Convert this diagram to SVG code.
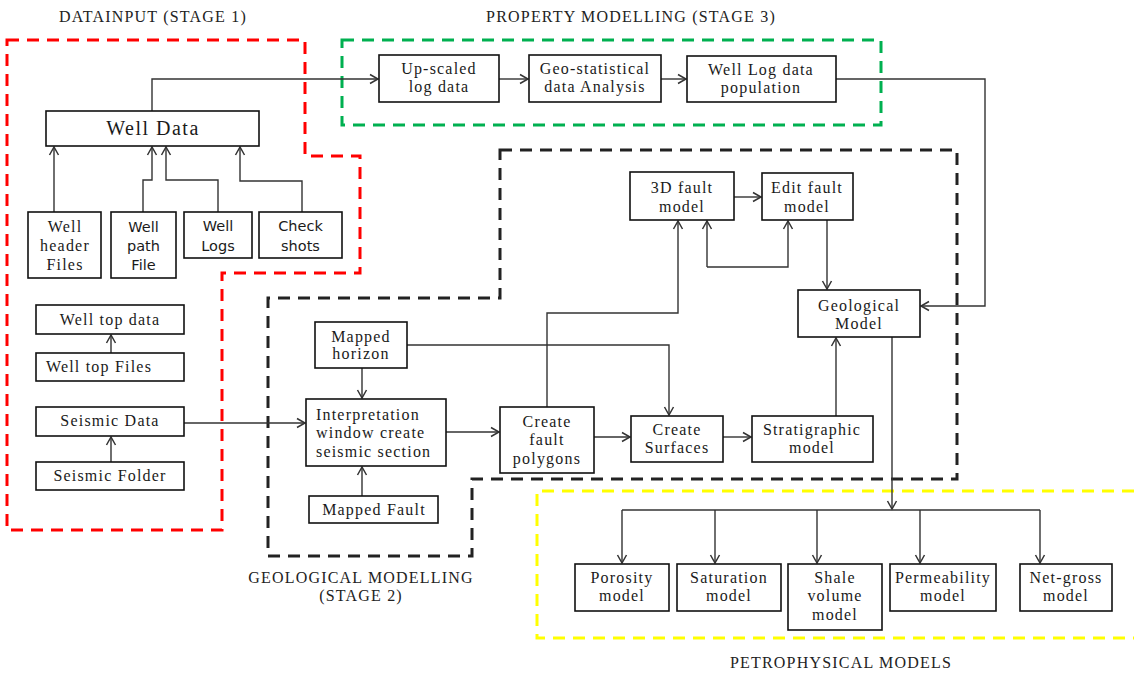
<svg xmlns="http://www.w3.org/2000/svg" width="1134" height="673" viewBox="0 0 1134 673">
<defs>
<style>
.box{fill:#fff;stroke:#111;stroke-width:1.6}
.t{font-family:"Liberation Serif","Times New Roman",serif;font-size:16px;letter-spacing:1.2px;fill:#1a1a1a;text-anchor:middle}
.s{font-family:"DejaVu Sans",Verdana,sans-serif;font-size:14.5px;fill:#1a1a1a;text-anchor:middle}
.ttl{font-family:"Liberation Serif","Times New Roman",serif;font-size:16px;letter-spacing:1.2px;fill:#222;text-anchor:middle}
.c{fill:none;stroke:#333;stroke-width:1.4}
.a{marker-end:url(#arr)}
.reg{fill:none;stroke-width:3;stroke-dasharray:12 8}
</style>
<marker id="arr" viewBox="-10 -6 12 12" refX="0" refY="0" markerWidth="12" markerHeight="12" markerUnits="userSpaceOnUse" orient="auto">
<path d="M-8,-4.5 L0,0 L-8,4.5" fill="none" stroke="#333" stroke-width="1.5"/>
</marker>
</defs>
<rect width="1134" height="673" fill="#fff"/>

<g id="regions">
<path class="reg" stroke="#ff0000" d="M7,40 H305 V156 H360 V273 H222 V530 H7 Z"/>
<path class="reg" stroke="#00b050" d="M342,40 H881 V125 H342 Z"/>
<path class="reg" stroke="#222" d="M500,150 H957 V479 H472 V556 H268 V298 H500 Z"/>
<path class="reg" stroke="#ffff00" d="M1134,491 H537 V638 H1134"/>
</g>

<g id="titles">
<text class="ttl" x="153" y="22">DATAINPUT (STAGE 1)</text>
<text class="ttl" x="631" y="22">PROPERTY MODELLING (STAGE 3)</text>
<text class="ttl" x="361" y="583">GEOLOGICAL MODELLING</text>
<text class="ttl" x="361" y="601">(STAGE 2)</text>
<text class="ttl" x="841" y="668">PETROPHYSICAL MODELS</text>
</g>

<g id="connectors">
<path class="c a" d="M54,212 V147"/>
<path class="c a" d="M143,212 V180 H152 V147"/>
<path class="c a" d="M218,212 V180 H166 V147"/>
<path class="c a" d="M302,212 V181 H240 V147"/>
<path class="c a" d="M152,111 V79 H378"/>
<path class="c a" d="M499,79 H528"/>
<path class="c a" d="M661,79 H686"/>
<path class="c a" d="M836,79 H985 V306 H921"/>
<path class="c a" d="M111,353 V335"/>
<path class="c a" d="M111,462 V437"/>
<path class="c a" d="M184,423 H305"/>
<path class="c a" d="M362,368 V398"/>
<path class="c a" d="M362,496 V467"/>
<path class="c a" d="M407,345 H669 V415"/>
<path class="c a" d="M446,432 H499"/>
<path class="c a" d="M594,437 H630"/>
<path class="c a" d="M723,437 H751"/>
<path class="c a" d="M547,407 V313 H678 V221"/>
<path class="c a" d="M707,267 V221"/>
<path class="c a" d="M707,267 H788 V221"/>
<path class="c a" d="M734,197 H761"/>
<path class="c a" d="M827,220 V289"/>
<path class="c a" d="M836,416 V338"/>
<path class="c a" d="M892,337 V509"/>
<path class="c" d="M622,510 H1040"/>
<path class="c a" d="M622,510 V563"/>
<path class="c a" d="M715,510 V563"/>
<path class="c a" d="M817,510 V563"/>
<path class="c a" d="M920,510 V563"/>
<path class="c a" d="M1040,510 V563"/>
</g>

<g id="wellData"><rect class="box" x="46" y="111" width="213" height="35"/><text class="t" x="153" y="135" style="font-size:20px;letter-spacing:1.5px">Well Data</text></g>
<g id="wellHeaderFiles"><rect class="box" x="28" y="212" width="73" height="66"/><text class="t" x="65" y="232">Well</text><text class="t" x="65" y="251">header</text><text class="t" x="65" y="270">Files</text></g>
<g id="wellPathFile"><rect class="box" x="111" y="212" width="65" height="66"/><text class="s" x="143.5" y="232">Well</text><text class="s" x="143.5" y="251">path</text><text class="s" x="143.5" y="270">File</text></g>
<g id="wellLogs"><rect class="box" x="184" y="212" width="68" height="46"/><text class="s" x="218" y="231">Well</text><text class="s" x="218" y="251">Logs</text></g>
<g id="checkShots"><rect class="box" x="259" y="212" width="83" height="46"/><text class="s" x="300.5" y="231">Check</text><text class="s" x="300.5" y="251">shots</text></g>
<g id="wellTopData"><rect class="box" x="36" y="305" width="148" height="29"/><text class="t" x="110" y="325">Well top data</text></g>
<g id="wellTopFiles"><rect class="box" x="36" y="353" width="148" height="28"/><text class="t" x="99" y="372">Well top Files</text></g>
<g id="seismicData"><rect class="box" x="36" y="407" width="148" height="29"/><text class="t" x="110" y="426">Seismic Data</text></g>
<g id="seismicFolder"><rect class="box" x="36" y="462" width="148" height="28"/><text class="t" x="110" y="481">Seismic Folder</text></g>

<g id="upscaledLogData"><rect class="box" x="379" y="55" width="120" height="47"/><text class="t" x="439" y="74">Up-scaled</text><text class="t" x="439" y="92">log data</text></g>
<g id="geoStatistical"><rect class="box" x="529" y="55" width="132" height="47"/><text class="t" x="595" y="74">Geo-statistical</text><text class="t" x="595" y="92">data Analysis</text></g>
<g id="wellLogPopulation"><rect class="box" x="687" y="56" width="149" height="46"/><text class="t" x="761" y="75">Well Log data</text><text class="t" x="761" y="93">population</text></g>

<g id="mappedHorizon"><rect class="box" x="315" y="322" width="92" height="46"/><text class="t" x="361" y="342">Mapped</text><text class="t" x="361" y="359">horizon</text></g>
<g id="interpretationWindow"><rect class="box" x="306" y="399" width="140" height="67"/><text class="t" x="316" y="420" style="text-anchor:start">Interpretation</text><text class="t" x="316" y="438" style="text-anchor:start">window create</text><text class="t" x="316" y="457" style="text-anchor:start">seismic section</text></g>
<g id="mappedFault"><rect class="box" x="309" y="496" width="129" height="27"/><text class="t" x="374" y="515">Mapped Fault</text></g>
<g id="createFaultPolygons"><rect class="box" x="500" y="407" width="94" height="66"/><text class="t" x="547" y="427">Create</text><text class="t" x="547" y="445">fault</text><text class="t" x="547" y="464">polygons</text></g>
<g id="createSurfaces"><rect class="box" x="631" y="416" width="92" height="46"/><text class="t" x="677" y="435">Create</text><text class="t" x="677" y="453">Surfaces</text></g>
<g id="stratigraphicModel"><rect class="box" x="752" y="416" width="121" height="46"/><text class="t" x="812" y="435">Stratigraphic</text><text class="t" x="812" y="453">model</text></g>
<g id="fault3D"><rect class="box" x="630" y="172" width="104" height="48"/><text class="t" x="682" y="193">3D fault</text><text class="t" x="682" y="212">model</text></g>
<g id="editFaultModel"><rect class="box" x="762" y="173" width="91" height="47"/><text class="t" x="807" y="193">Edit fault</text><text class="t" x="807" y="212">model</text></g>
<g id="geologicalModel"><rect class="box" x="798" y="290" width="122" height="47"/><text class="t" x="859" y="311">Geological</text><text class="t" x="859" y="329">Model</text></g>

<g id="porosityModel"><rect class="box" x="575" y="564" width="94" height="47"/><text class="t" x="622" y="583">Porosity</text><text class="t" x="622" y="601">model</text></g>
<g id="saturationModel"><rect class="box" x="677" y="564" width="104" height="47"/><text class="t" x="729" y="583">Saturation</text><text class="t" x="729" y="601">model</text></g>
<g id="shaleVolumeModel"><rect class="box" x="788" y="564" width="94" height="66"/><text class="t" x="835" y="583">Shale</text><text class="t" x="835" y="601">volume</text><text class="t" x="835" y="620">model</text></g>
<g id="permeabilityModel"><rect class="box" x="890" y="564" width="106" height="47"/><text class="t" x="943" y="583">Permeability</text><text class="t" x="943" y="601">model</text></g>
<g id="netGrossModel"><rect class="box" x="1020" y="564" width="92" height="47"/><text class="t" x="1066" y="583">Net-gross</text><text class="t" x="1066" y="601">model</text></g>
</svg>
